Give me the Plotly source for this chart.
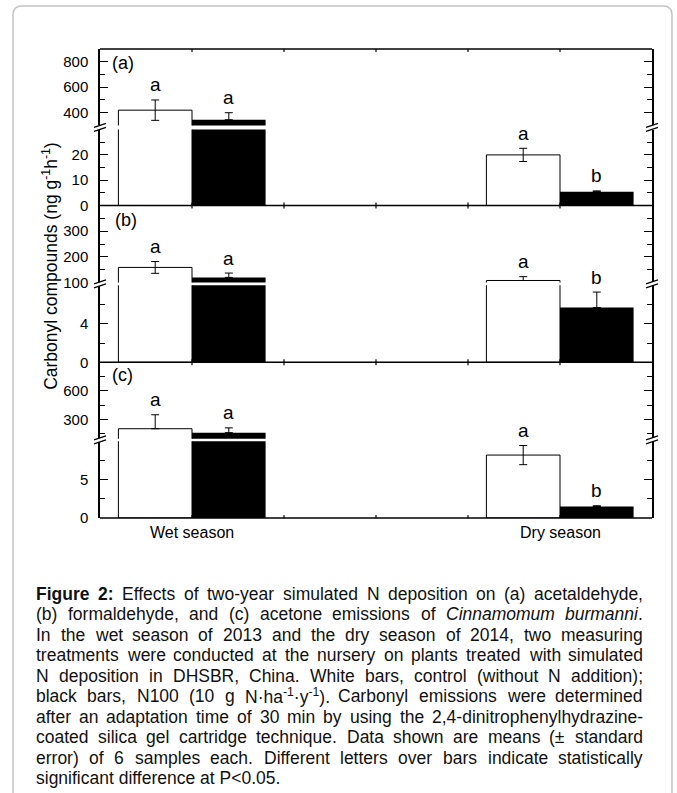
import plotly.graph_objects as go

# ---------------- data ----------------
categories = ["Wet season", "Dry season"]
cat_pos = [1, 5]
x_tick_vals = [1, 2, 3, 4, 5]

# (a) acetaldehyde
acet_ctrl = [420, 20.0]
acet_ctrl_se = [80, 2.6]
acet_n100 = [345, 5.5]
acet_n100_se = [55, 0.3]
acet_letters_ctrl = ["a", "a"]
acet_letters_n100 = ["a", "b"]

# (b) formaldehyde
form_ctrl = [159, 108]
form_ctrl_se = [23, 15]
form_n100 = [120, 5.7]
form_n100_se = [17, 1.6]
form_letters_ctrl = ["a", "a"]
form_letters_n100 = ["a", "b"]

# (c) acetone
acetone_ctrl = [205, 8.2]
acetone_ctrl_se = [146, 1.25]
acetone_n100 = [164, 1.5]
acetone_n100_se = [50, 0.1]
acetone_letters_ctrl = ["a", "a"]
acetone_letters_n100 = ["a", "b"]

# axis segments (broken axes)
a_upper_range = [300, 900]; a_upper_ticks = [400, 600, 800]; a_upper_minor = [500, 700]
a_lower_range = [0, 30];    a_lower_ticks = [0, 10, 20];    a_lower_minor = [5, 15, 25]
b_upper_range = [100, 400]; b_upper_ticks = [100, 200, 300]; b_upper_minor = [150, 250, 350]
b_lower_range = [0, 8];     b_lower_ticks = [0, 4];          b_lower_minor = [2, 6]
c_upper_range = [100, 900]; c_upper_ticks = [300, 600];      c_upper_minor = [150, 450, 750]
c_lower_range = [0, 10];    c_lower_ticks = [0, 5];          c_lower_minor = [2.5, 7.5]

# ---------------- geometry (pixels) ----------------
FW, FH = 677, 793
L, R, T, B = 100, 652, 49, 518.3
PW, PH = R - L, B - T


def px(xp):
    return (xp - L) / PW


def py(yp):
    return (B - yp) / PH


FONT = "Liberation Sans, Arial, sans-serif"

panels = [
    dict(label="(a)", lab_xy=(110, 63),
         ctrl=acet_ctrl, ctrl_se=acet_ctrl_se, n100=acet_n100, n100_se=acet_n100_se,
         lc=acet_letters_ctrl, ln=acet_letters_n100,
         up=(a_upper_range, a_upper_ticks, a_upper_minor, (125.5, 49)),
         lo=(a_lower_range, a_lower_ticks, a_lower_minor, (205.7, 129.6))),
    dict(label="(b)", lab_xy=(113, 220),
         ctrl=form_ctrl, ctrl_se=form_ctrl_se, n100=form_n100, n100_se=form_n100_se,
         lc=form_letters_ctrl, ln=form_letters_n100,
         up=(b_upper_range, b_upper_ticks, b_upper_minor, (282.7, 205.7)),
         lo=(b_lower_range, b_lower_ticks, b_lower_minor, (362.5, 285.5))),
    dict(label="(c)", lab_xy=(110, 375),
         ctrl=acetone_ctrl, ctrl_se=acetone_ctrl_se, n100=acetone_n100, n100_se=acetone_n100_se,
         lc=acetone_letters_ctrl, ln=acetone_letters_n100,
         up=(c_upper_range, c_upper_ticks, c_upper_minor, (439, 362.5)),
         lo=(c_lower_range, c_lower_ticks, c_lower_minor, (518.3, 441.5))),
]

BW = 0.8
fig = go.Figure()
annotations = []
shapes = []
layout_axes = {}


def seg_errors(vals, ses, rng, both):
    plus, minus = [], []
    for v, s in zip(vals, ses):
        if rng[0] <= v <= rng[1]:
            plus.append(s)
            minus.append(s if (both and v - s >= rng[0]) else 0)
        else:
            plus.append(None)
            minus.append(None)
    return plus, minus


k = 0
for p in panels:
    for segname in ("up", "lo"):
        k += 1
        rng, ticks, minor, (dom_b, dom_t) = p[segname]
        yname = "y" if k == 1 else f"y{k}"
        lkey = "yaxis" if k == 1 else f"yaxis{k}"
        layout_axes[lkey] = dict(
            domain=[py(dom_b), py(dom_t)], range=rng, anchor="x",
            tickmode="array", tickvals=ticks, ticktext=[str(t) for t in ticks],
            ticks="inside", ticklen=8, tickwidth=1.3, tickcolor="black",
            minor=dict(tickmode="array", tickvals=minor, ticks="inside",
                       ticklen=5, tickwidth=1.3, tickcolor="black"),
            showline=True, linecolor="black", linewidth=1.5, mirror="ticks",
            showgrid=False, zeroline=False, ticklabelstandoff=7,
            tickfont=dict(family=FONT, size=15, color="black"), fixedrange=True,
        )
        cp, cm = seg_errors(p["ctrl"], p["ctrl_se"], rng, True)
        npl, nm = seg_errors(p["n100"], p["n100_se"], rng, False)
        fig.add_trace(go.Bar(
            x=[c - BW / 2 for c in cat_pos], y=p["ctrl"], width=BW, yaxis=yname, xaxis="x",
            marker=dict(color="white", line=dict(color="black", width=1)),
            error_y=dict(type="data", symmetric=False, array=cp, arrayminus=cm,
                         color="black", thickness=1, width=4),
            showlegend=False, hoverinfo="skip"))
        fig.add_trace(go.Bar(
            x=[c + BW / 2 for c in cat_pos], y=p["n100"], width=BW, yaxis=yname, xaxis="x",
            marker=dict(color="black", line=dict(color="black", width=0)),
            error_y=dict(type="data", symmetric=False, array=npl, arrayminus=nm,
                         color="black", thickness=1, width=4),
            showlegend=False, hoverinfo="skip"))
    lo_rng = p["lo"][0]
    kup = k - 1
    klo = k
    for vals, ses, lets, off in ((p["ctrl"], p["ctrl_se"], p["lc"], -BW / 2),
                                 (p["n100"], p["n100_se"], p["ln"], BW / 2)):
        for c, v, s, t in zip(cat_pos, vals, ses, lets):
            top = v + s
            kk = kup if v > lo_rng[1] else klo
            annotations.append(dict(
                x=c + off, y=top, xref="x", yref=("y" if kk == 1 else f"y{kk}"),
                text=t, showarrow=False, yanchor="middle", yshift=15,
                font=dict(family=FONT, size=19, color="black")))
    annotations.append(dict(
        x=px(p["lab_xy"][0]), y=py(p["lab_xy"][1]), xref="paper", yref="paper",
        text=p["label"], showarrow=False, xanchor="left", yanchor="middle",
        font=dict(family=FONT, size=18, color="black")))

# horizontal frame lines + small x ticks on every panel edge
for yl in (T, 205.7, 362.5, B):
    shapes.append(dict(type="line", xref="paper", yref="paper", x0=0, x1=1,
                       y0=py(yl), y1=py(yl), line=dict(color="black", width=1.5)))
    for xv in x_tick_vals:
        y_a = yl - 3 if yl != T else yl
        y_b = yl + 3 if yl != B else yl
        shapes.append(dict(type="line", xref="x", yref="paper", x0=xv, x1=xv,
                           y0=py(y_a), y1=py(y_b), line=dict(color="black", width=1.2)))

# break marks
for cy in (127.5, 284.1, 440.2):
    for cx in (L, R):
        pts = [(cx - 6, cy), (cx + 6, cy - 4), (cx + 6, cy), (cx - 6, cy + 4)]
        path = "M " + " L ".join(f"{px(a):.5f},{py(b):.5f}" for a, b in pts) + " Z"
        shapes.append(dict(type="path", xref="paper", yref="paper", path=path,
                           fillcolor="white", line=dict(width=0)))
        for (x0, y0, x1, y1) in ((cx - 6, cy, cx + 6, cy - 4), (cx - 6, cy + 4, cx + 6, cy)):
            shapes.append(dict(type="line", xref="paper", yref="paper",
                               x0=px(x0), y0=py(y0), x1=px(x1), y1=py(y1),
                               line=dict(color="black", width=1.3)))

# outer rounded border
bx0, by0, bx1, by1, rr = 13, 6, 672, 805, 9
bpath = (f"M {px(bx0 + rr)},{py(by0)} L {px(bx1 - rr)},{py(by0)} "
         f"Q {px(bx1)},{py(by0)} {px(bx1)},{py(by0 + rr)} L {px(bx1)},{py(by1)} "
         f"L {px(bx0)},{py(by1)} L {px(bx0)},{py(by0 + rr)} "
         f"Q {px(bx0)},{py(by0)} {px(bx0 + rr)},{py(by0)} Z")
shapes.append(dict(type="path", xref="paper", yref="paper", path=bpath,
                   line=dict(color="#c4c4c4", width=1.5), fillcolor="rgba(0,0,0,0)"))

# category labels
for c, name in zip(cat_pos, categories):
    annotations.append(dict(x=c, y=py(533), xref="x", yref="paper", text=name,
                            showarrow=False, yanchor="middle",
                            font=dict(family=FONT, size=16, color="black")))

# y title
annotations.append(dict(
    x=px(37), y=py(266), xref="paper", yref="paper",
    text="Carbonyl compounds (ng g<sup>-1</sup>h<sup>-1</sup>)", textangle=-90,
    showarrow=False, font=dict(family=FONT, size=17.5, color="black")))

# ---------------- caption (justified) ----------------
AW = {' ': 278, '(': 333, ')': 333, ',': 278, '-': 333, '.': 278, ':': 278, ';': 278,
      '<': 584, '±': 584, '·': 278,
      'A': 667, 'B': 667, 'C': 722, 'D': 722, 'E': 667, 'F': 611, 'G': 778, 'H': 722,
      'I': 278, 'J': 500, 'K': 667, 'L': 556, 'M': 833, 'N': 722, 'O': 778, 'P': 667,
      'Q': 778, 'R': 722, 'S': 667, 'T': 611, 'U': 722, 'V': 667, 'W': 944, 'X': 667,
      'Y': 667, 'Z': 611,
      'a': 556, 'b': 556, 'c': 500, 'd': 556, 'e': 556, 'f': 278, 'g': 556, 'h': 556,
      'i': 222, 'j': 222, 'k': 500, 'l': 222, 'm': 833, 'n': 556, 'o': 556, 'p': 556,
      'q': 556, 'r': 333, 's': 500, 't': 278, 'u': 556, 'v': 500, 'w': 722, 'x': 500,
      'y': 500, 'z': 500}
for d in "0123456789":
    AW[d] = 556
BOLDW = dict(AW)
BOLDW.update({'F': 611, 'i': 278, 'g': 611, 'u': 611, 'r': 389, 'e': 556, ':': 333})
CAP_SIZE = 17.5


def measure(html, size=CAP_SIZE):
    s = html.replace("&lt;", "<")
    w = 0.0
    bold = False
    sup = False
    i = 0
    while i < len(s):
        if s[i] == '<' and s[i:i + 2] != '<0':
            j = s.index('>', i)
            tag = s[i + 1:j]
            if tag == 'b':
                bold = True
            elif tag == '/b':
                bold = False
            elif tag == 'sup':
                sup = True
            elif tag == '/sup':
                sup = False
            i = j + 1
            continue
        tbl = BOLDW if bold else AW
        w += tbl.get(s[i], 556) * (0.7 if sup else 1.0)
        i += 1
    return w * size / 1000.0


caption_lines = [
    "<b>Figure</b> <b>2:</b> Effects of two-year simulated N deposition on (a) acetaldehyde,",
    "(b) formaldehyde, and (c) acetone emissions of <i>Cinnamomum</i> <i>burmanni</i>.",
    "In the wet season of 2013 and the dry season of 2014, two measuring",
    "treatments were conducted at the nursery on plants treated with simulated",
    "N deposition in DHSBR, China. White bars, control (without N addition);",
    "black bars, N100 (10 g N·ha<sup>-1</sup>·y<sup>-1</sup>). Carbonyl emissions were determined",
    "after an adaptation time of 30 min by using the 2,4-dinitrophenylhydrazine-",
    "coated silica gel cartridge technique. Data shown are means (± standard",
    "error) of 6 samples each. Different letters over bars indicate statistically",
    "significant difference at P&lt;0.05.",
]
CAP_L, CAP_R = 35, 642
CAP_Y0, CAP_DY = 594, 20.5
cap_font = dict(family=FONT, size=CAP_SIZE, color="#111")
for li, line in enumerate(caption_lines):
    yc = CAP_Y0 + li * CAP_DY
    if li == len(caption_lines) - 1:
        annotations.append(dict(x=px(CAP_L), y=py(yc), xref="paper", yref="paper",
                                text=line, showarrow=False, xanchor="left",
                                yanchor="middle", borderpad=0, font=cap_font))
        continue
    words = line.split(" ")
    widths = [measure(w) for w in words]
    gap = (CAP_R - CAP_L - sum(widths)) / (len(words) - 1)
    xw = CAP_L
    for w, ww in zip(words, widths):
        annotations.append(dict(x=px(xw), y=py(yc), xref="paper", yref="paper",
                                text=w, showarrow=False, xanchor="left",
                                yanchor="middle", borderpad=0, font=cap_font))
        xw += ww + gap

fig.update_layout(
    width=FW, height=FH,
    margin=dict(l=L, r=FW - R, t=T, b=FH - B, pad=0),
    paper_bgcolor="white", plot_bgcolor="rgba(0,0,0,0)",
    barmode="overlay", showlegend=False,
    xaxis=dict(domain=[0, 1], range=[0, 6], anchor="y6", showline=False,
               showticklabels=False, ticks="", showgrid=False, zeroline=False,
               fixedrange=True),
    annotations=annotations, shapes=shapes,
    **layout_axes,
)

fig.write_html("out.html")
